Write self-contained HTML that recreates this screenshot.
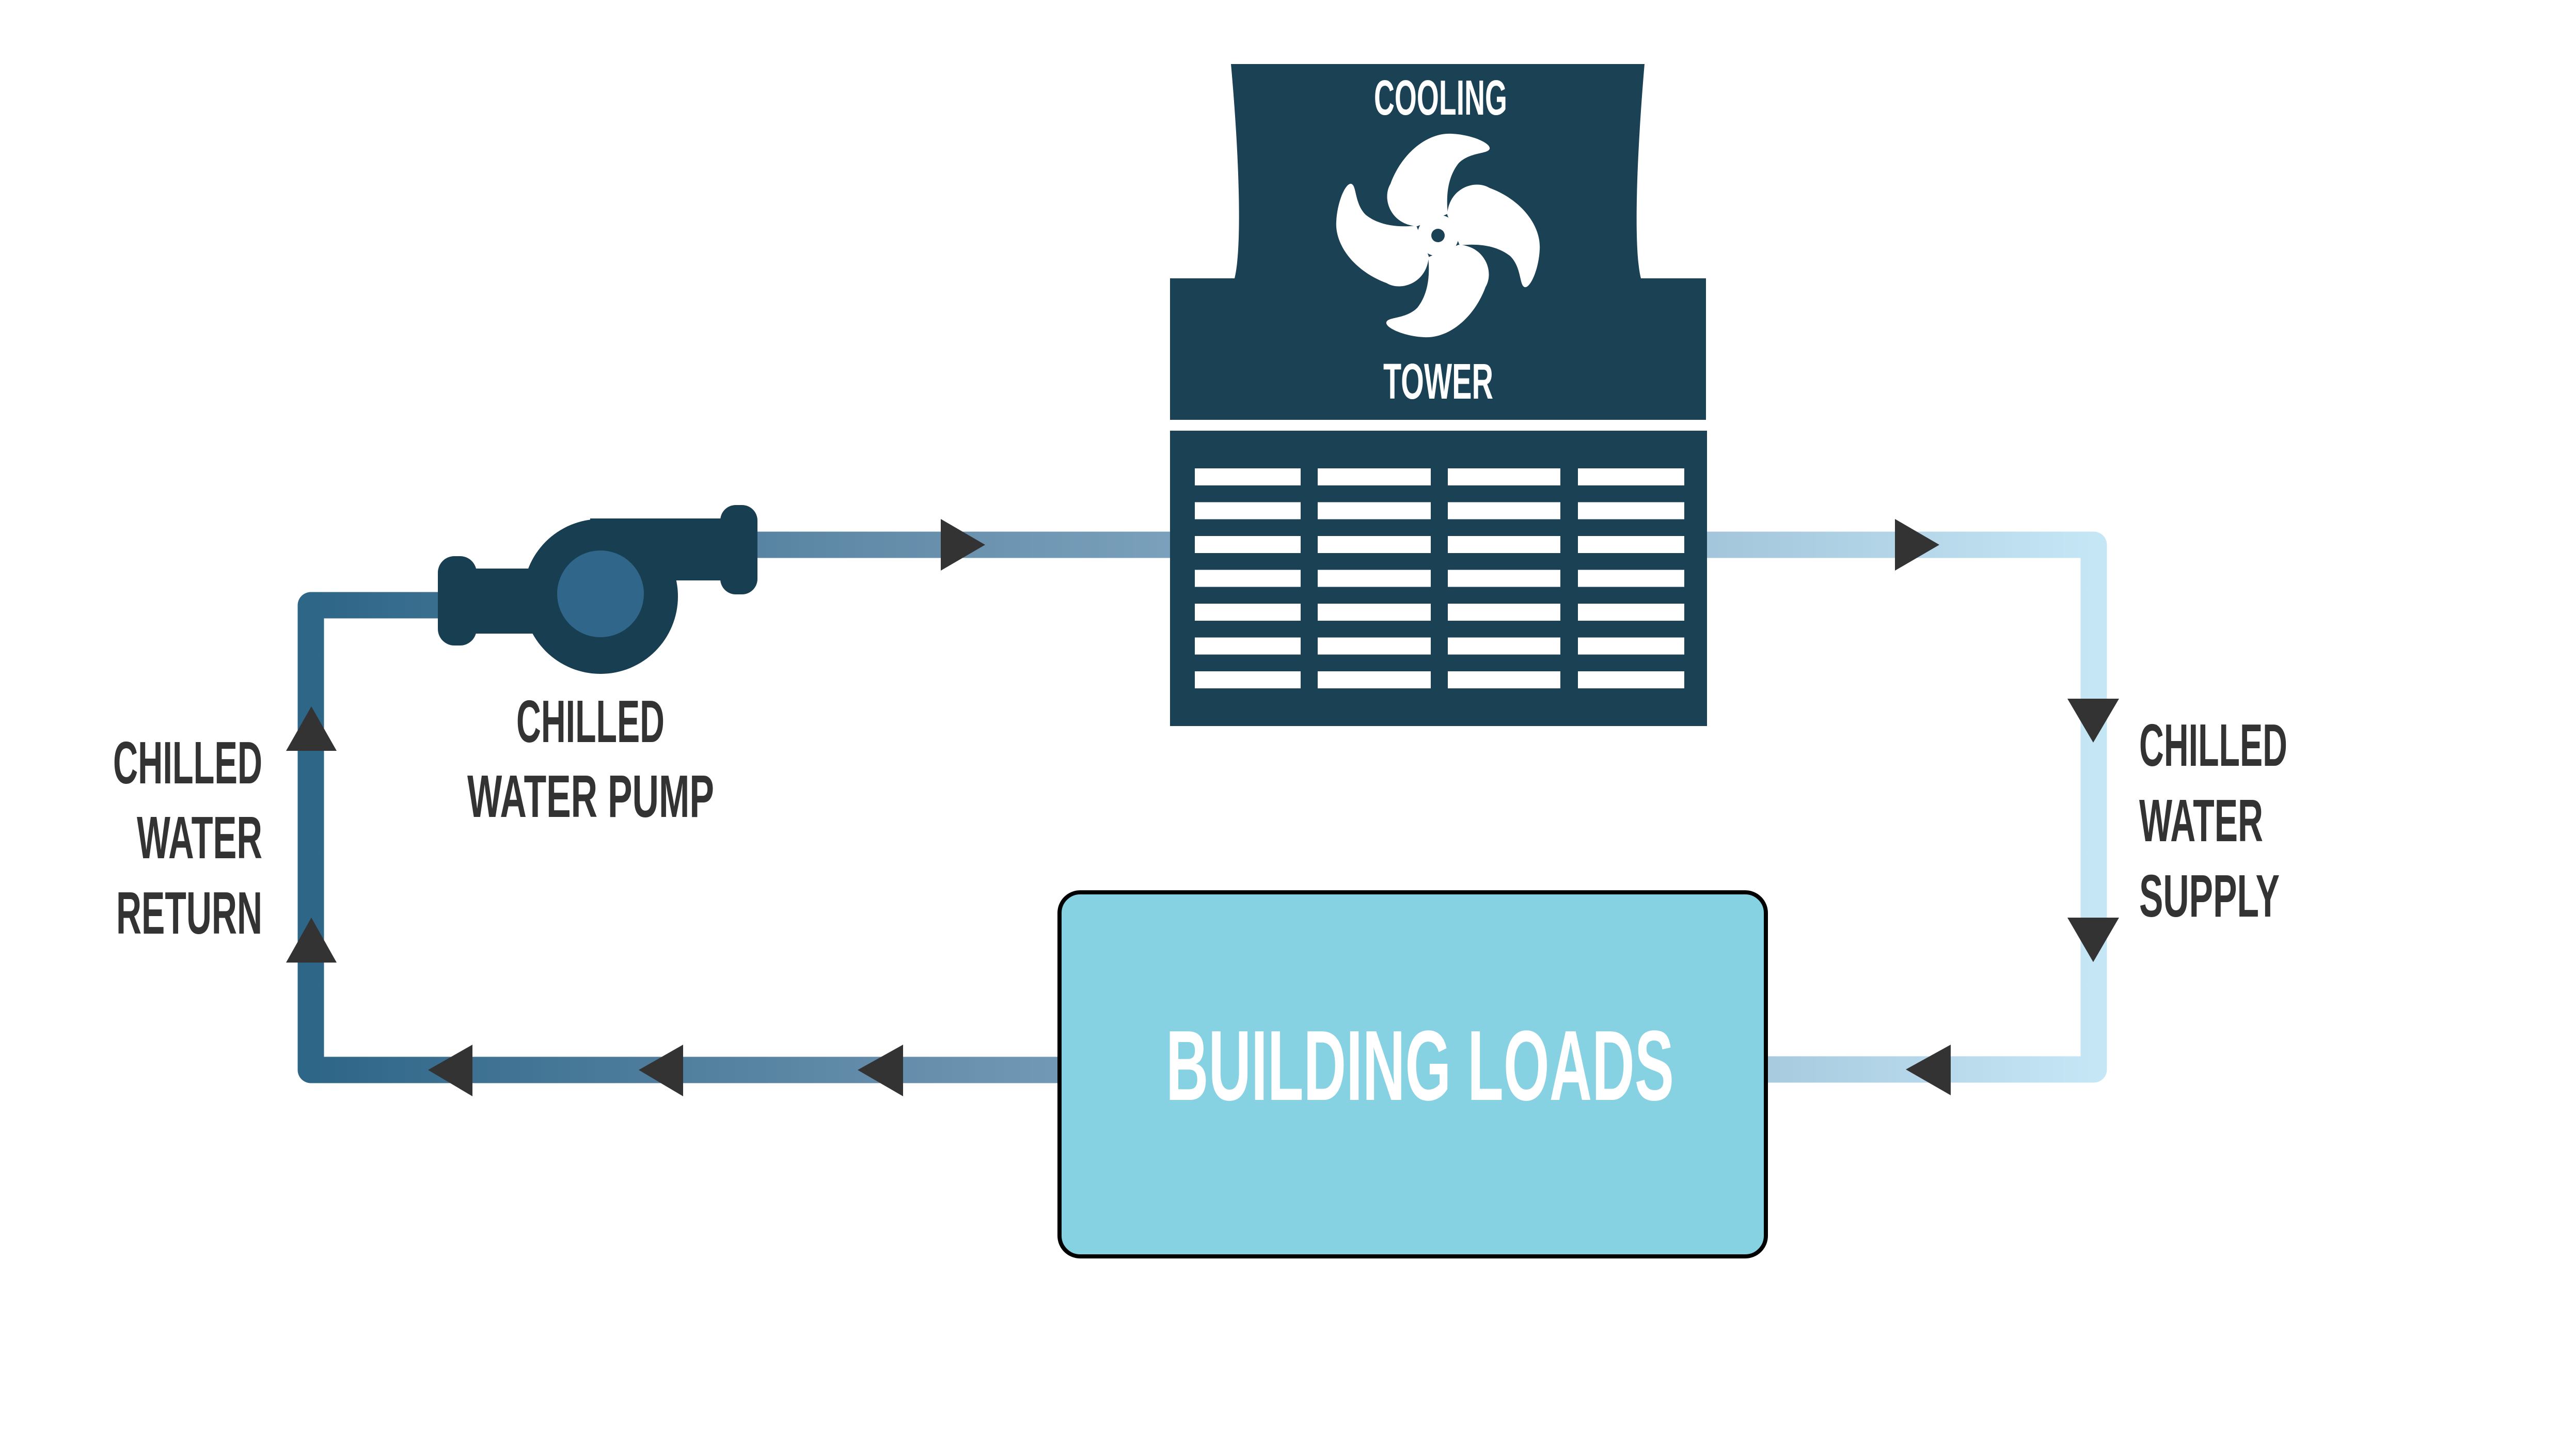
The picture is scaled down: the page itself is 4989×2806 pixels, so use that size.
<!DOCTYPE html>
<html><head><meta charset="utf-8"><style>
html,body{margin:0;padding:0;background:#fff;}
svg{display:block;}
text{font-family:"Liberation Sans Narrow","Liberation Sans",sans-serif;font-weight:bold;}
</style></head><body>
<svg width="4989" height="2806" viewBox="0 0 4989 2806" xmlns="http://www.w3.org/2000/svg">
<defs>
<linearGradient id="g" gradientUnits="userSpaceOnUse" x1="602" y1="0" x2="4055" y2="0">
<stop offset="0" stop-color="#2e6688"/>
<stop offset="0.35" stop-color="#6890ad"/>
<stop offset="0.8" stop-color="#a6c8dd"/>
<stop offset="1" stop-color="#c4e6f5"/>
</linearGradient>
</defs>
<rect width="4989" height="2806" fill="#fff"/>
<path d="M860,1172 L602,1172 L602,2072 L2060,2072" fill="none" stroke="url(#g)" stroke-width="51" stroke-linejoin="round"/>
<path d="M1460,1055 L2280,1055" fill="none" stroke="url(#g)" stroke-width="51"/>
<path d="M3290,1055 L4055,1055 L4055,2071 L3410,2071" fill="none" stroke="url(#g)" stroke-width="51" stroke-linejoin="round"/>

<path d="M2384,124 L3185,124 C3170,300 3163,480 3178,539 L3304,539 L3304,813 L2266,813 L2266,539 L2391,539 C2406,480 2400,300 2384,124 Z" fill="#1b4155"/>
<rect x="2266" y="834" width="1040" height="572" fill="#1b4155"/>
<g fill="#fff">
<g id="row">
<rect x="2314" y="907" width="205" height="33"/>
<rect x="2552" y="907" width="219" height="33"/>
<rect x="2804" y="907" width="218" height="33"/>
<rect x="3056" y="907" width="206" height="33"/>
</g>
<use href="#row" y="65.5"/><use href="#row" y="131"/><use href="#row" y="196.5"/>
<use href="#row" y="262"/><use href="#row" y="327.5"/><use href="#row" y="393"/>
</g>
<text x="2661" y="222" font-size="96" fill="#fff" textLength="258" lengthAdjust="spacingAndGlyphs">COOLING</text>
<text x="2679" y="772" font-size="97" fill="#fff" textLength="213" lengthAdjust="spacingAndGlyphs">TOWER</text>
<g transform="translate(2785,456)" fill="#fff">
<g id="blade"><path d="M-40,-18 C-90,-20 -110,-70 -92,-100 C-70,-160 -20,-200 27,-197 C70,-195 110,-175 98,-165 C90,-158 60,-160 40,-140 C20,-115 15,-80 19,-42 Z"/></g>
<use href="#blade" transform="rotate(90)"/>
<use href="#blade" transform="rotate(180)"/>
<use href="#blade" transform="rotate(270)"/>
<circle r="40" fill="#fff"/>
<circle r="13" fill="#1b4155"/>
</g>

<g fill="#183e51">
<rect x="848" y="1077" width="75" height="173" rx="32"/>
<rect x="900" y="1101" width="180" height="126"/>
<circle cx="1163" cy="1155" r="150"/>
<rect x="1143" y="1004" width="270" height="120"/>
<rect x="1395" y="978" width="72" height="173" rx="30"/>
</g>
<circle cx="1163" cy="1150" r="84" fill="#2f6689"/>

<rect x="2052" y="1728" width="1368" height="705" rx="40" fill="#86d2e2" stroke="#000" stroke-width="8"/>
<text x="2258" y="2130" font-size="193" fill="#fff" textLength="984" lengthAdjust="spacingAndGlyphs">BUILDING LOADS</text>

<g fill="#333">
<polygon points="1822,1005 1908,1055 1822,1105"/>
<polygon points="3670,1005 3756,1055 3670,1105"/>
<polygon points="4004,1353 4104,1353 4054,1438"/>
<polygon points="4004,1777 4104,1777 4054,1863"/>
<polygon points="3778,2023 3691,2071 3778,2121"/>
<polygon points="1749,2023 1661,2072 1749,2123"/>
<polygon points="1323,2023 1237,2072 1323,2123"/>
<polygon points="915,2023 829,2072 915,2123"/>
<polygon points="554,1454 652,1454 603,1368"/>
<polygon points="554,1864 652,1864 603,1777"/>
</g>

<g fill="#333">
<text x="1000" y="1437" font-size="116" textLength="287" lengthAdjust="spacingAndGlyphs">CHILLED</text>
<text x="905" y="1582" font-size="116" textLength="478" lengthAdjust="spacingAndGlyphs">WATER PUMP</text>
<text x="219" y="1517" font-size="116" textLength="289" lengthAdjust="spacingAndGlyphs">CHILLED</text>
<text x="265" y="1662" font-size="116" textLength="243" lengthAdjust="spacingAndGlyphs">WATER</text>
<text x="225" y="1808" font-size="116" textLength="283" lengthAdjust="spacingAndGlyphs">RETURN</text>
<text x="4143" y="1483" font-size="116" textLength="287" lengthAdjust="spacingAndGlyphs">CHILLED</text>
<text x="4143" y="1629" font-size="116" textLength="240" lengthAdjust="spacingAndGlyphs">WATER</text>
<text x="4143" y="1775" font-size="116" textLength="272" lengthAdjust="spacingAndGlyphs">SUPPLY</text>
</g>
</svg>
</body></html>
